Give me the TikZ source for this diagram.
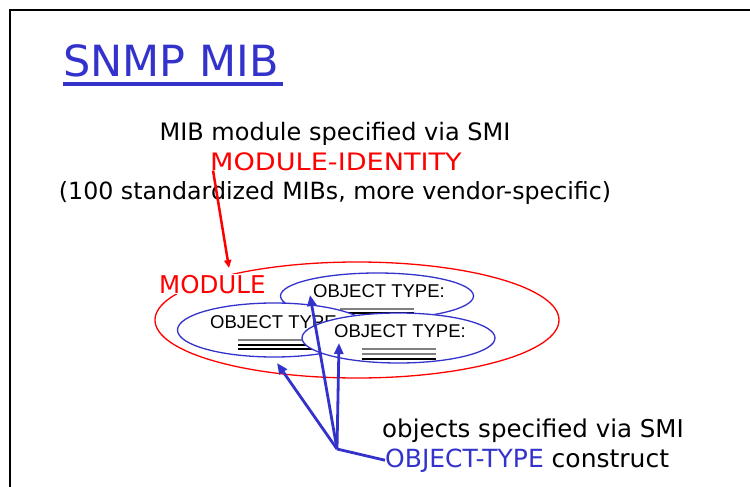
\documentclass[tikz,border=0pt]{standalone}
\usepackage{fontspec}
\setmainfont{DejaVu Sans}
\newfontfamily\widesans[FakeStretch=1.13]{DejaVu Sans}
\newfontfamily\arialfont{Liberation Sans}
\usetikzlibrary{shapes.geometric,arrows.meta}

\definecolor{slideblue}{RGB}{51,51,204}
\definecolor{slidered}{RGB}{255,0,0}
\definecolor{rulegray}{RGB}{128,128,128}

\begin{document}
\begin{tikzpicture}[x=1pt,y=-1pt,
    slidetext/.style={inner sep=0pt, anchor=base, font=\fontsize{24}{28}\selectfont},
    objtext/.style={inner sep=0pt, anchor=base west, font=\arialfont\fontsize{18.5}{22}\selectfont},
    objell/.style={ellipse, draw=slideblue, fill=white, line width=1.3pt, inner sep=0pt,
                   minimum width=193pt},
    bluearrow/.style={draw=slideblue, line width=2.8pt, -{Triangle[length=11pt,width=9pt]}},
  ]

    % Fix the size of the slide
    \useasboundingbox (0,0) rectangle (750,487);

    % Slide frame
    \draw[line width=2pt] (10,487) -- (10,10) -- (750,10);

    % Title with underline
    \node[inner sep=0pt, anchor=base west, text=slideblue, font=\fontsize{43}{50}\selectfont] (title) at (63,77) {SNMP MIB};
    \draw[slideblue, line width=3.5pt] (63,84) -- (283,84);

    % Text at the top
    \node[slidetext] (mibmod) at (335,140) {MIB module specified via SMI};
    \node[slidetext, text=slidered, font=\widesans\fontsize{24}{28}\selectfont] (modid) at (336,170) {MODULE-IDENTITY};
    \node[slidetext, font=\fontsize{23.7}{28}\selectfont] (stdmibs) at (335,199) {(100 standardized MIBs, more vendor-specific)};

    % The module ellipse
    \node[ellipse, draw=slidered, line width=1.3pt, minimum width=404pt, minimum height=116pt] (module) at (357,320) {};
    \node[inner sep=1pt, fill=white, text=slidered, anchor=base west, font=\fontsize{24.5}{28}\selectfont] (modlabel) at (158,293) {MODULE};

    % Object type ellipses, back to front
    \node[objell, minimum height=46pt] (obj1) at (377,296) {};
    \node[objtext] (objtxt1) at (313,297) {OBJECT TYPE:};
    \draw[rulegray, line width=1.4pt] (340,309) -- (414,309);
    \draw[black, line width=1.2pt] (340,313) -- (414,313);
    \draw[black, line width=1.2pt] (340,317) -- (414,317);

    \node[objell, minimum height=54pt] (obj2) at (274,330) {};
    \node[objtext] (objtxt2) at (210,328) {OBJECT TYPE:};
    \draw[rulegray, line width=1.4pt] (238,340) -- (312,340);
    \draw[black, line width=1.2pt] (238,345) -- (312,345);
    \draw[black, line width=1.2pt] (238,349) -- (312,349);

    \node[objell, minimum height=50pt] (obj3) at (398.5,338) {};
    \node[objtext] (objtxt3) at (334,337) {OBJECT TYPE:};
    \draw[rulegray, line width=1.4pt] (362,349) -- (436,349);
    \draw[rulegray, line width=1.2pt] (362,354) -- (436,354);
    \draw[black, line width=1.2pt] (362,359) -- (436,359);

    % Text at the bottom
    \node[inner sep=0pt, anchor=base west, font=\fontsize{24.5}{28}\selectfont] (objspec) at (382,437) {objects specified via SMI};
    \node[inner sep=0pt, anchor=base west, font=\fontsize{25}{28}\selectfont] (objtype) at (385,467) {\textcolor{slideblue}{OBJECT-TYPE} construct};

    % Arrow ends
    \coordinate (modtip) at (229,268);
    \coordinate (hub) at (337,449);
    \coordinate (tip1) at (310,295);
    \coordinate (tip2) at (277,363);
    \coordinate (tip3) at (339,343);

    % Red arrow to the module
    \draw[slidered, line width=2.5pt, -{Triangle[length=8pt,width=7pt]}] ([xshift=3pt]modid.south west) -- (modtip);

    % Blue arrows to the objects
    \draw[slideblue, line width=2.8pt, line join=round] (objtype.west) -- (hub);
    \draw[bluearrow] (hub) -- (tip1);
    \draw[bluearrow] (hub) -- (tip2);
    \draw[bluearrow] (hub) -- (tip3);

\end{tikzpicture}
\end{document}
